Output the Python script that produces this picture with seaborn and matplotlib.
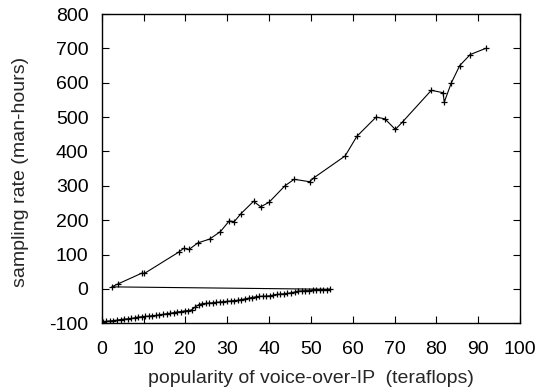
import matplotlib
matplotlib.use("Agg")
import matplotlib.pyplot as plt
import seaborn as sns
import pandas as pd

# lower branch (drawn first), then the upper branch; drawn as a single connected line
low_x = [0.3, 1.1, 2.0, 2.8, 3.6, 4.5, 5.3, 6.2, 7.0, 7.9, 8.7, 9.6, 10.4, 11.3, 12.1,
         13.0, 13.8, 14.7, 15.5, 16.4, 17.2, 18.1, 18.9, 19.8, 20.6, 21.5, 22.3, 23.2,
         24.0, 24.9, 25.7, 26.6, 27.4, 28.3, 29.1, 30.0, 30.8, 31.7, 32.5, 33.4, 34.2,
         35.1, 35.9, 36.8, 37.6, 38.5, 39.3, 40.2, 41.0, 41.9, 42.7, 43.6, 44.4, 45.3,
         46.1, 47.0, 47.8, 48.7, 49.5, 50.4, 51.2, 52.1, 52.9, 53.8, 54.6]
low_y = [-96, -94, -93, -92, -91, -89, -88, -87, -86, -84, -82, -81, -80, -79, -78,
         -77, -75, -74, -72, -71, -69, -67, -66, -64, -63, -61, -53, -46,
         -43, -42, -41, -40, -39, -38, -37, -36, -35, -34, -33, -31, -29,
         -27, -25, -23, -22, -21, -21, -20, -18, -16, -15, -14, -13, -11,
         -9, -6, -6, -5, -5, -4, -3, -3, -2, -2, -1]

up_x = [2.4, 3.8, 9.6, 10.2, 18.4, 19.6, 20.9, 23.0, 25.8, 28.4, 30.5, 31.7, 33.3,
        36.3, 38.0, 40.0, 43.8, 46.0, 49.7, 50.8, 58.2, 61.0, 65.6, 67.7, 70.2, 72.0,
        78.8, 81.6, 81.9, 83.6, 85.6, 88.1, 91.8]
up_y = [6, 14, 46, 45, 107, 118, 115, 134, 145, 167, 198, 196, 219,
        255, 239, 252, 300, 319, 312, 324, 387, 444, 500, 495, 464, 487,
        578, 571, 544, 600, 650, 682, 700]

x_ticks = [0, 10, 20, 30, 40, 50, 60, 70, 80, 90, 100]
y_ticks = [-100, 0, 100, 200, 300, 400, 500, 600, 700, 800]

df = pd.DataFrame({"x": low_x + up_x, "y": low_y + up_y})

sns.set_theme(style="white")
plt.rcParams['font.family'] = ['Liberation Sans', 'DejaVu Sans']

FS = 14
fig = plt.figure(figsize=(5.42, 3.89), dpi=100)
ax = fig.add_axes([0.1876, 0.1689, 0.7718, 0.7951])

sns.lineplot(data=df, x="x", y="y", sort=False, estimator=None, ax=ax,
             color="black", linewidth=0.8, marker="+", markersize=4.8,
             markeredgewidth=0.9, markeredgecolor="black")

ax.set_xlim(0, 100)
ax.set_ylim(-100, 800)
ax.set_xticks(x_ticks)
ax.set_yticks(y_ticks)
ax.set_xticklabels([str(t) for t in x_ticks], fontsize=FS)
ax.set_yticklabels([str(t) for t in y_ticks], fontsize=FS)
ax.tick_params(direction="in", length=5, width=0.8, top=True, right=True,
               bottom=True, left=True, labeltop=False, labelright=False,
               colors="black")
ax.tick_params(axis="x", pad=12.5)
ax.tick_params(axis="y", pad=9.5)
for s in ax.spines.values():
    s.set_visible(True)
    s.set_color("black")
    s.set_linewidth(1.0)
ax.set_xlabel("popularity of voice-over-IP  (teraflops)", fontsize=FS)
ax.set_ylabel("sampling rate (man-hours)", fontsize=FS)
ax.xaxis.set_label_coords(0.5, -0.152)
ax.yaxis.set_label_coords(-0.174, 0.49)
ax.grid(False)

fig.savefig("out.png", dpi=100)
